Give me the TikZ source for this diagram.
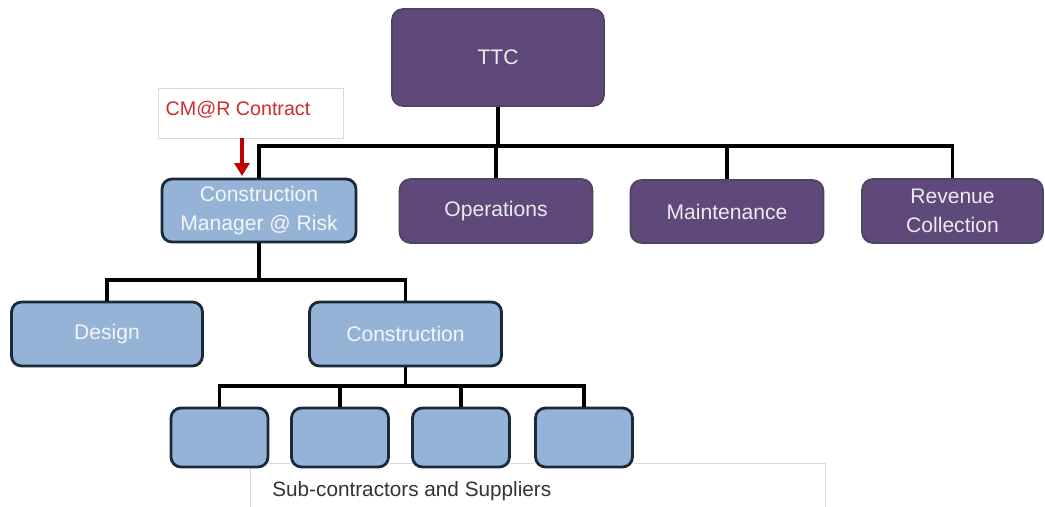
\documentclass[tikz,border=0pt]{standalone}
\usepackage{fontspec}
\setmainfont{Liberation Sans}
\usetikzlibrary{arrows.meta}
\definecolor{ttcpurple}{HTML}{5F497A}
\definecolor{purpleedge}{HTML}{4F4460}
\definecolor{boxblue}{HTML}{95B3D7}
\definecolor{blueedge}{HTML}{1B2A3A}
\definecolor{contractred}{HTML}{D02C2C}
\definecolor{arrowred}{HTML}{C00000}
\definecolor{textgray}{HTML}{333333}
\definecolor{lightedge}{HTML}{D9D9D9}
\tikzset{
  pbox/.style={draw=purpleedge, line width=1pt, fill=ttcpurple, rounded corners=0.22cm,
    text=white!92!black, align=center, font=\fontsize{12}{16.5}\selectfont, inner sep=0pt},
  bbox/.style={draw=blueedge, line width=1.6pt, fill=boxblue, rounded corners=0.2cm,
    text=white!96!black, align=center, font=\fontsize{12}{16.5}\selectfont, inner sep=0pt},
  sbox/.style={bbox, minimum width=1.94cm, minimum height=1.18cm},
  conn/.style={line width=2pt, black, line join=miter},
}
\begin{document}
\begin{tikzpicture}[x=0.02cm, y=-0.02cm]
\useasboundingbox (0,0) rectangle (1045,507);
% sub-contractors label box (behind)
\node[draw=lightedge, line width=0.6pt, fill=white, minimum width=11.5cm, minimum height=1.0cm,
  anchor=north west, inner sep=0pt] (subbox) at (250,463) {};
\node[anchor=base west, text=textgray, font=\fontsize{11.8}{14}\selectfont, inner sep=0pt]
  (sublabel) at (272,496) {Sub-contractors and Suppliers};
% contract label
\node[draw=lightedge, line width=0.5pt, fill=white, minimum width=3.7cm, minimum height=1.0cm,
  inner sep=0pt] (contract) at (250.5,113) {};
\node[text=contractred, font=\fontsize{11.2}{13}\selectfont, inner sep=0pt] (contracttext) at (238,110) {CM@R Contract};
% nodes
\node[pbox, minimum width=4.24cm, minimum height=1.94cm] (ttc) at (498,57.5) {TTC};
\node[bbox, minimum width=3.88cm, minimum height=1.26cm] (cmrisk) at (259,210.5) {Construction\\Manager @ Risk};
\node[pbox, minimum width=3.86cm, minimum height=1.28cm] (ops) at (496,211) {Operations};
\node[pbox, minimum width=3.86cm, minimum height=1.26cm] (maint) at (727,211.5) {Maintenance};
\node[pbox, minimum width=3.62cm, minimum height=1.28cm] (rev) at (952.5,211) {Revenue\\Collection};
\node[bbox, minimum width=3.82cm, minimum height=1.28cm] (design) at (107,334) {Design};
\node[bbox, minimum width=3.84cm, minimum height=1.28cm] (constr) at (405.5,334) {Construction};
\node[sbox] (s1) at (219.5,437.5) {};
\node[sbox] (s2) at (340,437.5) {};
\node[sbox] (s3) at (461,437.5) {};
\node[sbox] (s4) at (584,437.5) {};
% buses
\coordinate (bus1) at (498,146);
\coordinate (bus2) at (259,280);
\coordinate (bus3) at (405.5,386);
\draw[conn] (ttc.south) -- (bus1);
\draw[conn] (cmrisk.north) |- (bus1);
\draw[conn] (rev.north) |- (bus1);
\draw[conn] (ops.north) |- (bus1);
\draw[conn] (maint.north) |- (bus1);
\draw[conn] (cmrisk.south) -- (bus2);
\draw[conn] (design.north) |- (bus2);
\draw[conn] (constr.north) |- (bus2);
\draw[conn] (constr.south) -- (bus3);
\draw[conn] (s1.north) |- (bus3);
\draw[conn] (s2.north) |- (bus3);
\draw[conn] (s3.north) |- (bus3);
\draw[conn] (s4.north) |- (bus3);
% contract arrow
\coordinate (arrtop) at (242,138);
\coordinate (arrtip) at (242,176);
\draw[arrowred, line width=2pt, -{Triangle[length=0.26cm, width=0.3cm]}] (arrtop) -- (arrtip);
\end{tikzpicture}
\end{document}
